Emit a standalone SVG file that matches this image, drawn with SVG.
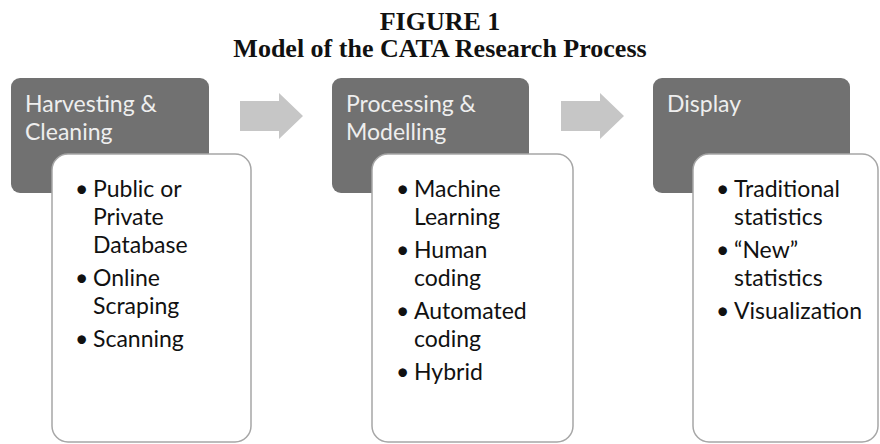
<svg xmlns="http://www.w3.org/2000/svg" width="880" height="444" viewBox="0 0 880 444">
<style>
.title{font-family:"Liberation Serif","Times New Roman",serif;font-weight:bold;font-size:26px;fill:#111;text-anchor:middle}
.hdr{fill:#717171}
.hdrtxt{font-family:Lato,"Open Sans",sans-serif;font-size:23px;fill:#eeeeee}
.card{fill:#fff;stroke:#a6a6a6;stroke-width:1.5}
.item{font-family:Lato,"Open Sans",sans-serif;font-size:23px;fill:#111}
.arrow{fill:#c6c6c6}
</style>
<rect width="880" height="444" fill="#fff"/>
<g id="title">
<text class="title" x="440" y="30">FIGURE 1</text>
<text class="title" x="440" y="57">Model of the CATA Research Process</text>
</g>
<g id="connectors">
<polygon class="arrow" points="240,101 279,101 279,93 303,116 279,139 279,131 240,131"/>
<polygon class="arrow" points="561,101 600,101 600,93 624,116 600,139 600,131 561,131"/>
</g>
<g id="node-harvesting">
<rect class="hdr" x="11" y="78" width="198" height="115" rx="9"/>
<text class="hdrtxt" x="25" y="112">Harvesting &amp;</text>
<text class="hdrtxt" x="25" y="140">Cleaning</text>
<rect class="card" x="52" y="154" width="199" height="288" rx="16"/>
<text class="item" x="75" y="197">•</text><text class="item" x="93" y="197">Public or</text>
<text class="item" x="93" y="225">Private</text>
<text class="item" x="93" y="253">Database</text>
<text class="item" x="75" y="286">•</text><text class="item" x="93" y="286">Online</text>
<text class="item" x="93" y="314">Scraping</text>
<text class="item" x="75" y="347">•</text><text class="item" x="93" y="347">Scanning</text>
</g>
<g id="node-processing">
<rect class="hdr" x="332" y="78" width="197" height="115" rx="9"/>
<text class="hdrtxt" x="346" y="112">Processing &amp;</text>
<text class="hdrtxt" x="346" y="140">Modelling</text>
<rect class="card" x="372" y="154" width="201" height="288" rx="16"/>
<text class="item" x="396" y="197">•</text><text class="item" x="414" y="197">Machine</text>
<text class="item" x="414" y="225">Learning</text>
<text class="item" x="396" y="258">•</text><text class="item" x="414" y="258">Human</text>
<text class="item" x="414" y="286">coding</text>
<text class="item" x="396" y="319">•</text><text class="item" x="414" y="319">Automated</text>
<text class="item" x="414" y="347">coding</text>
<text class="item" x="396" y="380">•</text><text class="item" x="414" y="380">Hybrid</text>
</g>
<g id="node-display">
<rect class="hdr" x="653" y="78" width="197" height="115" rx="9"/>
<text class="hdrtxt" x="667" y="112">Display</text>
<rect class="card" x="693" y="154" width="185" height="288" rx="16"/>
<text class="item" x="716" y="197">•</text><text class="item" x="734" y="197">Traditional</text>
<text class="item" x="734" y="225">statistics</text>
<text class="item" x="716" y="258">•</text><text class="item" x="734" y="258">“New”</text>
<text class="item" x="734" y="286">statistics</text>
<text class="item" x="716" y="319">•</text><text class="item" x="734" y="319">Visualization</text>
</g>
</svg>
